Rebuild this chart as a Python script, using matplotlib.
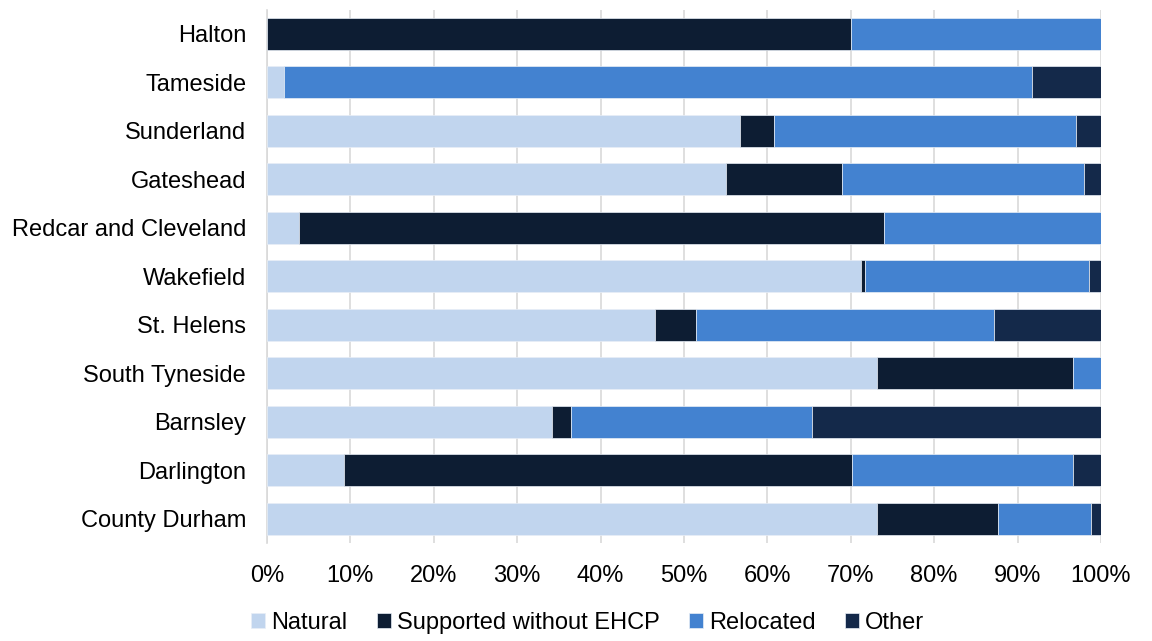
import matplotlib.pyplot as plt
import numpy as np

plt.rcParams['font.family'] = ['Liberation Sans', 'DejaVu Sans']

areas = ["Halton", "Tameside", "Sunderland", "Gateshead", "Redcar and Cleveland",
         "Wakefield", "St. Helens", "South Tyneside", "Barnsley", "Darlington",
         "County Durham"]

# share of each outcome (%), per area
natural = [0.0, 2.0, 56.7, 55.0, 3.8, 71.2, 46.5, 73.1, 34.2, 9.2, 73.1]
supported = [70.0, 0.0, 4.1, 13.9, 70.2, 0.5, 4.9, 23.6, 2.3, 60.9, 14.6]
relocated = [30.0, 89.7, 36.2, 29.1, 26.0, 26.9, 35.8, 3.3, 28.8, 26.5, 11.1]
other = [0.0, 8.3, 3.0, 2.0, 0.0, 1.4, 12.8, 0.0, 34.7, 3.4, 1.2]

series = ["Natural", "Supported without EHCP", "Relocated", "Other"]
colors = ["#C1D5EE", "#0D1D33", "#4382D0", "#14294A"]

fig = plt.figure(figsize=(11.52, 6.41), dpi=100)
ax = fig.add_axes([0.2318, 0.1529, 0.7239, 0.8319])

y = np.arange(len(areas))
left = np.zeros(len(areas))
for name, vals, c in zip(series, [natural, supported, relocated, other], colors):
    vals = np.array(vals)
    ax.barh(y, vals, left=left, height=0.66, color=c, label=name,
            edgecolor="#E8EEF6", linewidth=0.5, zorder=3)
    left += vals

ax.set_xlim(0, 100)
ax.set_ylim(len(areas) - 0.5, -0.5)
ax.set_yticks(y)
ax.set_yticklabels(areas, fontsize=17)
ax.set_xticks(np.arange(0, 101, 10))
ax.set_xticklabels([f"{v}%" for v in range(0, 101, 10)], fontsize=17)
ax.tick_params(axis="both", length=0)
ax.tick_params(axis="y", pad=15)
ax.tick_params(axis="x", pad=16)

ax.grid(axis="x", color="#D9D9D9", linewidth=1.2, zorder=0)
for s in ["top", "right", "bottom"]:
    ax.spines[s].set_visible(False)
ax.spines["left"].set_color("#D9D9D9")
ax.spines["left"].set_linewidth(1.2)

fig.legend(loc="center", bbox_to_anchor=(0.51, 0.028), ncol=4, frameon=False,
           fontsize=17, handlelength=0.6, handleheight=0.6, handletextpad=0.25,
           columnspacing=1.25)

plt.savefig("out.png", dpi=100)
